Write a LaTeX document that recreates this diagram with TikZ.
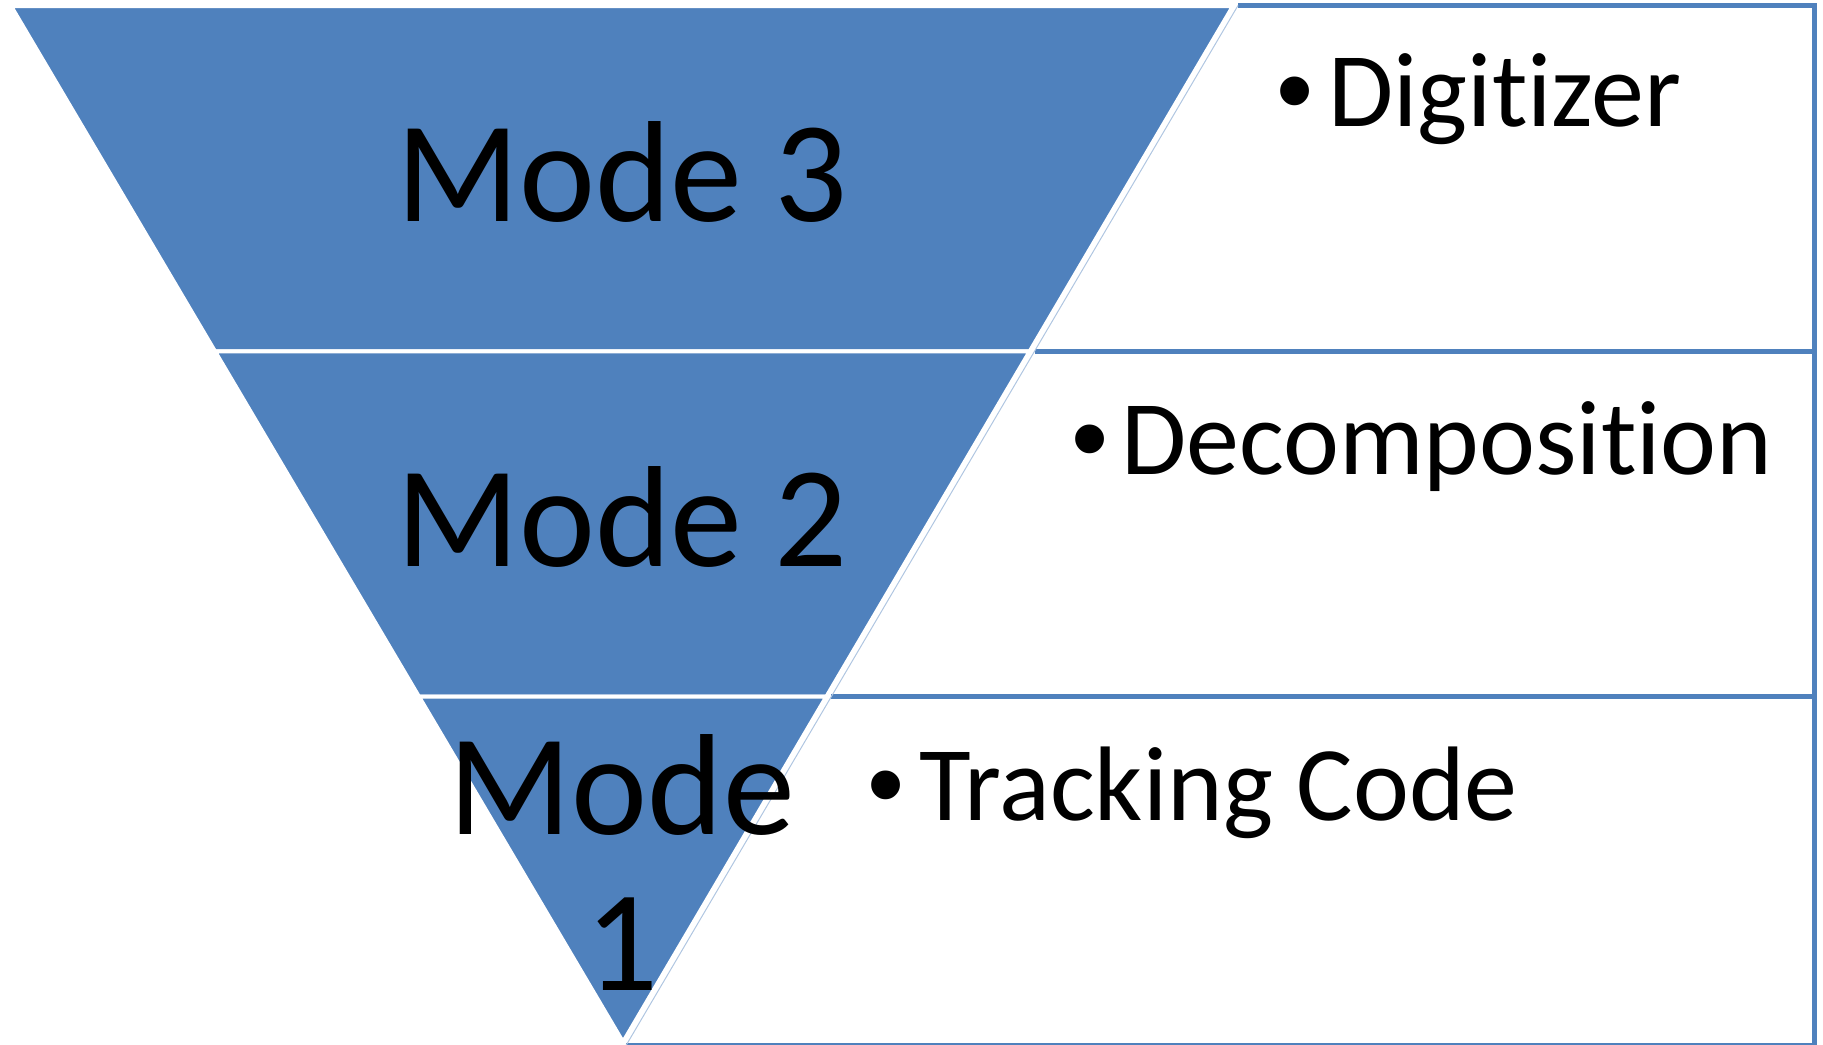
\documentclass[tikz,border=0pt]{standalone}
\usepackage{fontspec}
\setmainfont{Carlito}[Ligatures={NoCommon}]
\newfontfamily\bulletfont{Liberation Sans}
\usetikzlibrary{calc}
\definecolor{pyrblue}{RGB}{79,129,189}

\begin{document}
\begin{tikzpicture}[x=0.5pt,y=-0.5pt,
  segment/.style={fill=pyrblue, draw=white, line width=2pt, line join=miter},
  rowedge/.style={draw=pyrblue, line width=2.5pt, line join=miter},
  panelside/.style={draw=pyrblue!45, line width=0.5pt},
  modelabel/.style={font=\fontsize{72}{78}\selectfont, anchor=base, align=center, inner sep=0pt},
  itemlabel/.style={font=\fontsize{53}{60}\selectfont, anchor=base west, inner sep=0pt},
  bulletmark/.style={font=\bulletfont\fontsize{53}{60}\selectfont, anchor=base, inner sep=0pt}]

\useasboundingbox (0,0) rectangle (1823,1044);

% corners of the inverted triangle
\coordinate (A) at (11,6);
\coordinate (B) at (1233,6);
\coordinate (C) at (623,1042);
\coordinate (A1) at ($(A)!1/3!(C)$);
\coordinate (B1) at ($(B)!1/3!(C)$);
\coordinate (A2) at ($(A)!2/3!(C)$);
\coordinate (B2) at ($(B)!2/3!(C)$);

% slanted left side of the text panels, just right of the triangle
\coordinate (P0) at (1238,5.5);
\coordinate (Q)  at (628,1042);
\coordinate (P1) at ($(P0)!1/3!(Q)$);
\coordinate (P2) at ($(P0)!2/3!(Q)$);
\coordinate (P3) at (626,1045.5);
\coordinate (R)  at (1814.5,0);

% text panels
\draw[rowedge] (P0) -- (P0 -| R) -- (P1 -| R) -- (P1);
\draw[rowedge] (P1 -| R) -- (P2 -| R) -- (P2);
\draw[rowedge] (P2 -| R) -- (P3 -| R) -- (P3);
\draw[panelside] (P0) -- (P3);

% triangle segments
\draw[segment] (A) -- (B) -- (B1) -- (A1) -- cycle;
\draw[segment] (A1) -- (B1) -- (B2) -- (A2) -- cycle;
\draw[segment] (A2) -- (B2) -- (C) -- cycle;

% segment labels (a multi-line node sits on its last baseline)
\node[modelabel] (m3) at (622,221) {Mode 3};
\node[modelabel] (m2) at (622,566) {Mode 2};
\node[modelabel] (m1) at (622,990) {Mode\\1};

% panel items
\node[bulletmark] (b3) at (1295,126) {•};
\node[itemlabel] (t3) at (1328,126) {Digitizer};
\node[bulletmark] (b2) at (1090,474) {•};
\node[itemlabel] (t2) at (1121,474) {Decomposition};
\node[bulletmark] (b1) at (886,820) {•};
\node[itemlabel] (t1) at (919,820) {Tracking Code};
\end{tikzpicture}
\end{document}
